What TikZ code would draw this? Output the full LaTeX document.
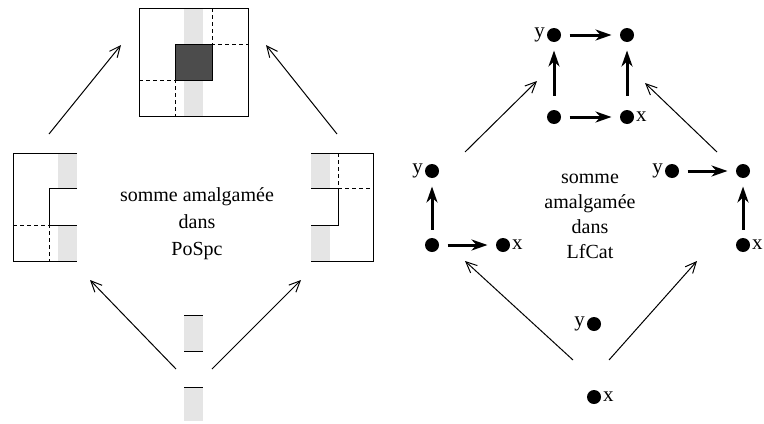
\documentclass[tikz,border=0pt]{standalone}
\usepackage{fontspec}
\setmainfont{Liberation Serif}
\usetikzlibrary{arrows.meta}

\definecolor{strip}{gray}{0.9}
\definecolor{block}{gray}{0.3}

\begin{document}
\begin{tikzpicture}[x=0.5pt, y=-0.5pt, line width=0.5pt,
    dashbox/.style={dash pattern=on 2pt off 1.5pt},
    thin arrow/.style={-{Straight Barb[length=5.5pt,width=5pt]}},
    thick arrow/.style={line width=1.5pt, -{Stealth[length=8pt,width=5.5pt,inset=2.5pt]}, shorten <=4pt, shorten >=4pt},
    dot/.style={circle, fill, inner sep=0pt, minimum size=7pt},
    lbl/.style={inner sep=0.6pt, font=\fontsize{10.5}{12}\selectfont},
    caption/.style={align=center, font=\fontsize{10}{12}\selectfont}]
  \useasboundingbox (0,0) rectangle (764,423);

  % PoSpc (Left)
  % top square
  \fill[strip] (184,8) rectangle (203,116);
  \draw[dashbox] (212,8) -- (212,44) -- (248,44);
  \draw[dashbox] (139,80) -- (175,80) -- (175,116);
  \draw[fill=block] (175,44) rectangle (212,80);
  \draw (139,8) rectangle (248,116);

  % left piece
  \fill[strip] (58,153) rectangle (77,188);
  \fill[strip] (58,225) rectangle (77,261);
  \draw (77,153) -- (13,153) -- (13,261) -- (77,261);
  \draw (77,188) -- (49,188) -- (49,225) -- (77,225);
  \draw[dashbox] (13,225) -- (49,225) -- (49,261);

  % right piece
  \fill[strip] (311,153) rectangle (330,188);
  \fill[strip] (311,225) rectangle (330,261);
  \draw (311,153) -- (373,153) -- (373,261) -- (311,261);
  \draw (311,188) -- (338,188) -- (338,225) -- (311,225);
  \draw[dashbox] (338,153) -- (338,188) -- (373,188);

  % bottom piece
  \fill[strip] (184,315) rectangle (203,351);
  \fill[strip] (184,387) rectangle (203,421);
  \draw (184,315) -- (203,315);
  \draw (184,351) -- (203,351);
  \draw (184,387) -- (203,387);

  \node[caption] (pospc) at (197,224) {somme amalgamée\\[1.5pt]dans\\[1.5pt]PoSpc};

  \coordinate (p-ul-from) at (49,134);
  \coordinate (p-ul-to) at (121,45);
  \coordinate (p-ur-from) at (337,134);
  \coordinate (p-ur-to) at (266,45);
  \coordinate (p-bl-from) at (176,369);
  \coordinate (p-bl-to) at (90,280);
  \coordinate (p-br-from) at (212,369);
  \coordinate (p-br-to) at (301,280);
  \draw[thin arrow] (p-ul-from) -- (p-ul-to);
  \draw[thin arrow] (p-ur-from) -- (p-ur-to);
  \draw[thin arrow] (p-bl-from) -- (p-bl-to);
  \draw[thin arrow] (p-br-from) -- (p-br-to);

  % LfCat (Right)
  % top square
  \node[dot] (sq-tl) at (554,35) {};
  \node[dot] (sq-tr) at (627,35) {};
  \node[dot] (sq-bl) at (554,117) {};
  \node[dot] (sq-br) at (627,117) {};
  \node[lbl, left] (sq-y) at (sq-tl.west) {y};
  \node[lbl, right] (sq-x) at (sq-br.east) {x};
  \draw[thick arrow] (sq-tl) -- (sq-tr);
  \draw[thick arrow] (sq-bl) -- (sq-br);
  \draw[thick arrow, shorten <=7pt] (sq-bl) -- (sq-tl);
  \draw[thick arrow, shorten <=7pt] (sq-br) -- (sq-tr);

  % left corner
  \node[dot] (l-y) at (432,171) {};
  \node[dot] (l-o) at (432,245) {};
  \node[dot] (l-x) at (503,245) {};
  \node[lbl, left] (l-ylab) at (l-y.west) {y};
  \node[lbl, right] (l-xlab) at (l-x.east) {x};
  \draw[thick arrow] (l-o) -- (l-y);
  \draw[thick arrow] (l-o) -- (l-x);

  % right corner
  \node[dot] (r-y) at (672,171) {};
  \node[dot] (r-o) at (743,171) {};
  \node[dot] (r-x) at (743,245) {};
  \node[lbl, left] (r-ylab) at (r-y.west) {y};
  \node[lbl, right] (r-xlab) at (r-x.east) {x};
  \draw[thick arrow] (r-y) -- (r-o);
  \draw[thick arrow] (r-x) -- (r-o);

  % two points
  \node[dot] (b-y) at (594,324) {};
  \node[dot] (b-x) at (594,397) {};
  \node[lbl, left] (b-ylab) at (b-y.west) {y};
  \node[lbl, right] (b-xlab) at (b-x.east) {x};

  \node[caption] (lfcat) at (590,216) {somme\\[0.5pt]amalgamée\\[0.5pt]dans\\[0.5pt]LfCat};

  \coordinate (c-ul-from) at (465,152);
  \coordinate (c-ul-to) at (537,81);
  \coordinate (c-ur-from) at (717,152);
  \coordinate (c-ur-to) at (645,83);
  \coordinate (c-bl-from) at (573,360);
  \coordinate (c-bl-to) at (465,261);
  \coordinate (c-br-from) at (609,360);
  \coordinate (c-br-to) at (697,261);
  \draw[thin arrow] (c-ul-from) -- (c-ul-to);
  \draw[thin arrow] (c-ur-from) -- (c-ur-to);
  \draw[thin arrow] (c-bl-from) -- (c-bl-to);
  \draw[thin arrow] (c-br-from) -- (c-br-to);
\end{tikzpicture}
\end{document}
